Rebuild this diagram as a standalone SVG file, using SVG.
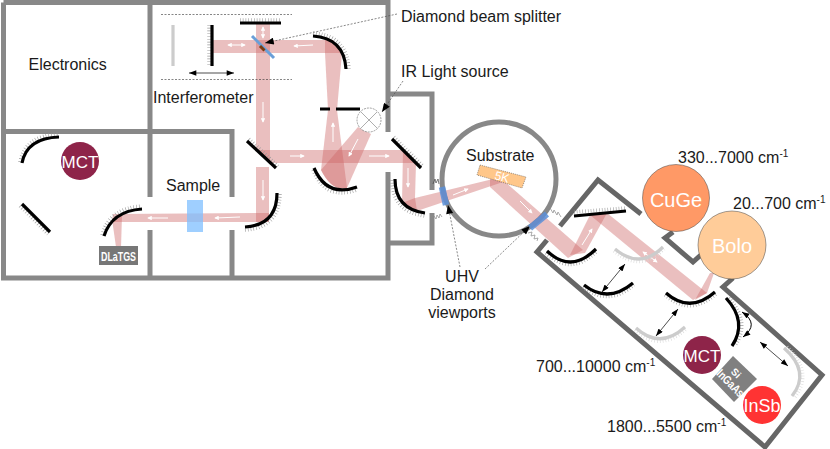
<svg xmlns="http://www.w3.org/2000/svg" width="830" height="449" viewBox="0 0 830 449">
<style>
text{font-family:"Liberation Sans",Arial,sans-serif;font-size:16px;fill:#1a1a1a}
.wall{fill:none;stroke:#888;stroke-width:5}
.cham{fill:none;stroke:#666;stroke-width:5}
.beam{fill:#cc6666;opacity:.42}
.m{fill:none;stroke:#000;stroke-width:3.2}
.g{fill:none;stroke:#ccc;stroke-width:3.2}
.h{fill:none;stroke:#999;stroke-width:3.500;stroke-dasharray:.6 2.200}
.hl{fill:none;stroke:#d8d8d8;stroke-width:3.500;stroke-dasharray:.6 2.200}
.fl{fill:none;stroke:#fff;stroke-width:1;marker-end:url(#wh)}
.fd{fill:none;stroke:#fff;stroke-width:1;marker-end:url(#wh);marker-start:url(#wh)}
.lead{fill:none;stroke:#555;stroke-width:.7;stroke-dasharray:2 1.500;marker-end:url(#bk)}
.dbl{fill:none;stroke:#000;stroke-width:.7;marker-start:url(#bk2);marker-end:url(#bk2)}
.dash{fill:none;stroke:#333;stroke-width:.6;stroke-dasharray:2 1.500}
.zig{fill:none;stroke:#888;stroke-width:.7}
.vp{fill:none;stroke:#5b8fd8;stroke-width:6.500;opacity:.85}
.ci{stroke:#444;stroke-width:.5}
</style>
<defs>
<marker id="wh" viewBox="0 0 6 6" refX="5" refY="3" markerWidth="4.500" markerHeight="4.500" markerUnits="userSpaceOnUse" orient="auto-start-reverse"><path d="M0 0L6 3L0 6z" fill="#fff"/></marker>
<marker id="bk" viewBox="0 0 10 8" refX="10" refY="4" markerWidth="10" markerHeight="7" markerUnits="userSpaceOnUse" orient="auto"><path d="M0 0L10 4L0 8z" fill="#000"/></marker>
<marker id="bk2" viewBox="0 0 8 6" refX="8" refY="3" markerWidth="8" markerHeight="5.500" markerUnits="userSpaceOnUse" orient="auto-start-reverse"><path d="M0 0L8 3L0 6z" fill="#000"/></marker>
</defs>

<g id="walls">
<path class="wall" d="M3.500 2.500H388V132M388 172V278H3.500V2.500M3.500 131.500H232V197M232 230V278M150 2.500V197M150 230V278"/>
<path class="wall" d="M388 94H432V190M432 213V243H388"/>
<circle class="wall" cx="499" cy="179" r="57"/>
</g>
<g id="chamber">
<path class="cham" d="M560 226L598 180L641 214"/>
<path class="cham" d="M673 232L665 238L693 262L702 254"/>
<path class="cham" d="M733 278L723 287L822 375L765 447L537 252L547 240"/>
</g>

<g id="connectors">
<!-- interferometer arms -->
<path class="beam" d="M256 23H270V163L256 150z"/>
<path class="beam" d="M213 40H333L342 53H213z"/>
<path class="beam" d="M325 40H333L342 53L337 110H328L325 53z"/>
<!-- source and collimating mirror -->
<path class="beam" d="M328 110H337L347 188Q332 192 321 170z"/>
<path class="beam" d="M358 127L371 134L347 188Q332 192 321 170z"/>
<!-- main horizontal run -->
<path class="beam" d="M256 150H403L416 163H270z"/>
<path class="beam" d="M403 150L416 163L415 198L417 211Q407 208 402 203z"/>
<path class="beam" d="M256 167H269V222H256z"/>
<path class="beam" d="M113 214L269 213V222L112 222z"/>
<path class="beam" d="M112 219L122 216L121 247H116z"/>
<path class="beam" d="M402 203L415 198L493 179L503 182L417 211z"/>
<!-- path through the analysis chamber -->
<path class="beam" d="M490 178L503 180L583 250L568 258L490 187z"/>
<path class="beam" d="M570 255L590 215L607 213L585 253z"/>
<path class="beam" d="M590 215L607 213L707 293L693 300z"/>
<path class="beam" d="M695 300L710 273L714 273L707 293z"/>
<!-- leaders -->
<path class="lead" d="M397 14L265 43"/>
<path class="lead" d="M403 81L382 112"/>
<path class="lead" d="M460 267L448 205"/>
<path class="lead" d="M485 269L530 226"/>
<!-- travel ranges -->
<path class="dbl" d="M189 73H234"/>
<path class="dbl" d="M625 264L602 292"/>
<path class="dbl" d="M678 309L656 336"/>
<path class="dbl" d="M760 342L788 366"/>
<path d="M742 312Q760 324 743 337" fill="none" stroke="#000" stroke-width="1" marker-start="url(#bk2)" marker-end="url(#bk2)"/>
<!-- direction ticks on the beam -->
<path class="fd" d="M228 45H245"/>
<path class="fd" d="M263 27V38"/>
<path class="fl" d="M263 102V122"/>
<path class="fl" d="M313 45L294 46"/>
<path class="fl" d="M263 180V200"/>
<path class="fl" d="M240 217L215 218"/>
<path class="fl" d="M168 218L148 218"/>
<path class="fl" d="M290 156H304"/>
<path class="fl" d="M369 156H389"/>
<path class="fl" d="M408 168V187"/>
<path class="fl" d="M358 139L349 156"/>
<path class="fl" d="M333 142V123"/>
<path class="fl" d="M453 195L468 189"/>
<path class="fl" d="M520 201L532 213"/>
<path class="fl" d="M582 245L592 229"/>
<path class="fd" d="M643 252L657 262"/>
</g>

<g id="interferometer">
<path class="dash" d="M161 14.500H292M161 79.500H292"/>
<path class="g" d="M173 25V66" stroke-width="3.500"/>
<path class="h" d="M209 25V66"/><path class="m" d="M212 25V66"/>
<path class="h" d="M240 20H281"/><path class="m" d="M240 23H281"/>
<path d="M252 36L274 58" fill="none" stroke="#6a9fd8" stroke-width="3"/>
<path d="M260 46L264.500 50.500" fill="none" stroke="#7a3b10" stroke-width="3"/>
<text x="153" y="103">Interferometer</text>
</g>
<g id="mirrors-source">
<path class="h" d="M313 33Q347 35 349 69"/><path class="m" d="M313 36Q344 38 346 69"/>
<path class="m" d="M320 109H330M336 109H360"/>
<path class="h" d="M313 170Q325 201 357 190"/><path class="m" d="M314 168Q327 198 357 187"/>
<path class="h" d="M394 137L423 166"/><path class="m" d="M392 139L421 168"/>
<path class="h" d="M392 180Q392 212 425 216"/><path class="m" d="M395 179Q395 209 425 213"/>
<path class="h" d="M249 139L278 166"/><path class="m" d="M247 141L276 168"/>
<path class="h" d="M245 230Q280 228 280 193"/><path class="m" d="M245 227Q277 225 277 193"/>
</g>
<g id="source">
<circle cx="369" cy="120" r="12" fill="#fff" stroke="#777" stroke-width=".7" stroke-dasharray="2 1"/>
<path d="M361 112L377 128M377 112L361 128" stroke="#777" stroke-width=".6"/>
</g>
<g id="electronics"><text x="28.500" y="70">Electronics</text></g>
<g id="sample-room">
<rect x="187" y="200" width="16" height="32" fill="#7fbfff" opacity=".75"/>
<text x="166" y="191">Sample</text>
</g>
<g id="detector-room">
<path class="h" d="M20 162Q25 135 59 134"/><path class="m" d="M22 163Q27 138 59 137"/>
<path class="h" d="M20 206L48 234"/><path class="m" d="M22 204L50 232"/>
<path class="h" d="M102 235Q109 208 142 206"/><path class="m" d="M104 236Q112 211 142 209"/>
</g>
<g id="mct-1"><circle cx="80" cy="161" r="19" fill="#8e2449"/><text x="80" y="168" text-anchor="middle" style="font-size:17px;fill:#fff">MCT</text></g>
<g id="dlatgs"><rect x="99" y="246" width="39" height="19" fill="#777"/><text x="118.500" y="261" text-anchor="middle" textLength="35" lengthAdjust="spacingAndGlyphs" style="font-size:13px;font-weight:bold;fill:#fff">DLaTGS</text></g>

<g id="substrate">
<path d="M480 165L526 177L522 188L477 175z" fill="#ffc78a" stroke="#555" stroke-width=".6" stroke-dasharray="1 1"/>
<text transform="translate(501 181) rotate(15)" text-anchor="middle" style="font-size:12px;fill:#fff">5K</text>
<text x="466" y="161">Substrate</text>
</g>
<g id="viewports">
<path class="vp" d="M442 187L446 205"/>
<path class="vp" d="M530 228L547 214"/>
<path class="zig" d="M550 208l3 5 1-3 3 5 1-3 3 5M528 233l4-1-1 4 4-1-1 4 4-1-1 3"/>
<path class="zig" d="M434 216l2 3 1-4 2 3 1-4 2 3"/>
<path d="M433 184l2-5 1 4 2-4 1 5" fill="none" stroke="#444" stroke-width=".7"/>
<text x="462" y="282" text-anchor="middle">UHV</text>
<text x="462" y="300" text-anchor="middle">Diamond</text>
<text x="462" y="318" text-anchor="middle">viewports</text>
</g>

<g id="chamber-optics">
<path class="h" d="M574 212L626 208"/><path class="m" d="M574 216L626 211"/>
<path class="h" d="M546 253Q571 277 597 251"/><path class="m" d="M547 251Q571 274 596 249"/>
<path class="hl" d="M614 251Q640 273 664 249"/><path class="g" d="M615 249Q640 270 663 247"/>
<path class="h" d="M583 287Q608 307 634 285"/><path class="m" d="M584 285Q608 304 633 283"/>
<path class="h" d="M665 295Q690 317 716 294"/><path class="m" d="M666 293Q690 314 715 292"/>
<path class="hl" d="M635 330Q660 353 686 329"/><path class="g" d="M636 328Q660 350 685 327"/>
<path class="h" d="M729 298Q751 322 735 346"/><path class="m" d="M726 298Q748 322 732 346"/>
<path class="hl" d="M787 347Q814 372 795 397"/><path class="g" d="M784 348Q811 372 792 396"/>
</g>
<g id="cuge"><circle class="ci" cx="676" cy="198" r="33.500" fill="#ff9966"/><text x="676" y="207" text-anchor="middle" style="font-size:20px;fill:#fff">CuGe</text></g>
<g id="bolo"><circle class="ci" cx="732" cy="245" r="34" fill="#ffcc99"/><text x="732" y="253" text-anchor="middle" style="font-size:20px;fill:#fff">Bolo</text></g>
<g id="mct-2"><circle cx="702" cy="355" r="19" fill="#8e2449"/><text x="702" y="362" text-anchor="middle" style="font-size:17px;fill:#fff">MCT</text></g>
<g id="si-ingaas"><path d="M733 356L757 379L734 402L712 379z" fill="#808080"/>
<text transform="translate(733.500 375.500) rotate(45)" text-anchor="middle" style="font-size:10px;font-weight:bold;fill:#fff">Si</text>
<text transform="translate(727.500 386) rotate(45)" text-anchor="middle" textLength="33" lengthAdjust="spacingAndGlyphs" style="font-size:12px;font-weight:bold;fill:#fff">InGaAs</text></g>
<g id="insb"><circle cx="762" cy="405" r="19" fill="#f33"/><text x="762" y="412" text-anchor="middle" style="font-size:18px;fill:#fff">InSb</text></g>

<g id="labels">
<text x="401" y="22">Diamond beam splitter</text>
<text x="401" y="77">IR Light source</text>
<text x="678" y="163">330...7000 cm<tspan dy="-6" style="font-size:10px">-1</tspan></text>
<text x="733" y="209">20...700 cm<tspan dy="-6" style="font-size:10px">-1</tspan></text>
<text x="536" y="372">700...10000 cm<tspan dy="-6" style="font-size:10px">-1</tspan></text>
<text x="607" y="432">1800...5500 cm<tspan dy="-6" style="font-size:10px">-1</tspan></text>
</g>
</svg>
